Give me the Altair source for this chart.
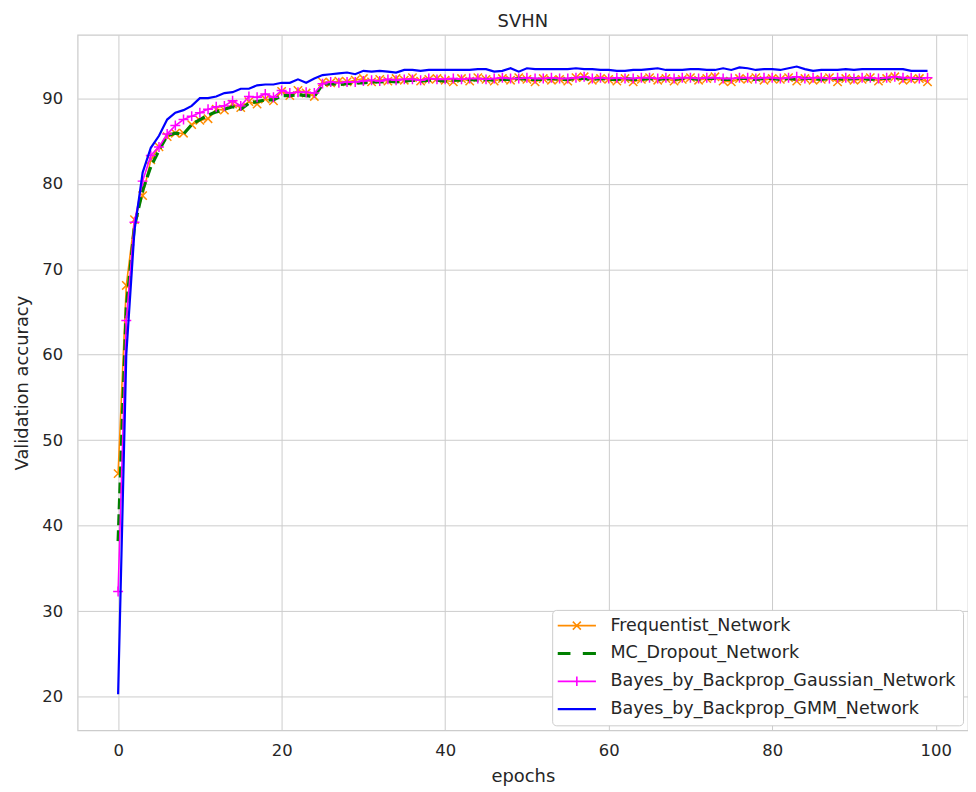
import altair as alt
import pandas as pd

epochs = list(range(100))

series_names = [
    "Frequentist_Network",
    "MC_Dropout_Network",
    "Bayes_by_Backprop_Gaussian_Network",
    "Bayes_by_Backprop_GMM_Network",
]
series_colors = ["#ff8c00", "#008000", "#ff00ff", "#0000ff"]

frequentist = [
    46.1, 68.1, 75.8, 78.6, 82.8, 84.3, 85.5, 85.9, 85.9, 86.9,
    87.4, 87.6, 88.7, 88.6, 89.3, 88.9, 89.6, 89.3, 89.9, 89.7,
    90.8, 90.3, 90.9, 90.6, 90.2, 91.9, 91.8, 92.0, 91.9, 92.1,
    92.3, 91.9, 92.2, 92.0, 92.3, 92.1, 92.4, 92.0, 92.2, 92.3,
    92.1, 91.9, 92.3, 92.0, 92.4, 92.2, 92.0, 92.3, 92.1, 92.4,
    92.2, 91.9, 92.3, 92.1, 92.2, 92.0, 92.4, 92.5, 92.1, 92.3,
    92.2, 92.0, 92.3, 91.9, 92.2, 92.4, 92.1, 92.3, 92.0, 92.2,
    92.4, 92.1, 92.3, 92.5, 92.0, 91.9, 92.3, 92.2, 92.4, 92.1,
    92.3, 92.2, 92.4, 92.0, 92.3, 92.1, 92.2, 92.4, 91.9, 92.3,
    92.1, 92.2, 92.4, 92.0, 92.3, 92.5, 92.1, 92.2, 92.3, 91.9,
]

mc_dropout = [
    38.2, 65.5, 75.0, 79.2, 82.0, 83.9, 85.6, 85.9, 85.8, 86.9,
    87.5, 88.0, 88.4, 88.7, 89.0, 88.7, 89.4, 89.6, 89.8, 89.8,
    90.3, 90.3, 90.4, 90.3, 90.2, 91.6, 91.7, 91.6, 91.7, 91.8,
    91.8, 91.9, 91.9, 92.0, 91.9, 92.0, 92.1, 92.0, 92.1, 92.1,
    92.0, 92.1, 92.1, 92.2, 92.1, 92.2, 92.1, 92.2, 92.2, 92.3,
    92.2, 92.2, 92.2, 92.3, 92.2, 92.2, 92.3, 92.3, 92.2, 92.3,
    92.2, 92.2, 92.3, 92.2, 92.2, 92.3, 92.2, 92.3, 92.2, 92.3,
    92.3, 92.2, 92.3, 92.3, 92.2, 92.2, 92.3, 92.3, 92.2, 92.3,
    92.3, 92.2, 92.3, 92.2, 92.3, 92.3, 92.2, 92.3, 92.3, 92.2,
    92.3, 92.3, 92.2, 92.3, 92.3, 92.4, 92.3, 92.3, 92.3, 92.3,
]

bbb_gaussian = [
    32.3, 64.0, 75.5, 80.3, 83.3, 84.3, 85.8, 86.8, 87.5, 87.9,
    88.3, 88.7, 89.0, 89.1, 89.7, 89.1, 90.2, 90.1, 90.5, 90.1,
    90.9, 90.6, 90.7, 90.7, 90.6, 91.7, 91.9, 91.8, 91.9, 91.9,
    92.0, 92.1, 92.0, 92.2, 92.1, 92.2, 92.2, 92.1, 92.3, 92.2,
    92.2, 92.3, 92.2, 92.3, 92.3, 92.2, 92.3, 92.4, 92.3, 92.3,
    92.4, 92.3, 92.3, 92.4, 92.3, 92.3, 92.4, 92.5, 92.3, 92.4,
    92.3, 92.4, 92.3, 92.3, 92.4, 92.4, 92.3, 92.4, 92.3, 92.4,
    92.4, 92.3, 92.4, 92.4, 92.3, 92.3, 92.4, 92.4, 92.3, 92.4,
    92.4, 92.3, 92.4, 92.5, 92.3, 92.4, 92.4, 92.3, 92.4, 92.4,
    92.3, 92.4, 92.4, 92.3, 92.4, 92.5, 92.4, 92.4, 92.3, 92.4,
]

bbb_gmm = [
    20.3, 60.0, 74.5, 81.3, 84.2, 85.6, 87.5, 88.3, 88.6, 89.1,
    90.0, 90.0, 90.2, 90.6, 90.7, 91.1, 91.1, 91.5, 91.6, 91.6,
    91.8, 91.8, 92.2, 91.8, 92.3, 92.7, 92.8, 92.9, 93.0, 92.8,
    93.2, 93.1, 93.2, 93.1, 93.0, 93.3, 93.3, 93.2, 93.3, 93.3,
    93.3, 93.3, 93.3, 93.3, 93.4, 93.4, 93.1, 93.2, 93.5, 93.1,
    93.5, 93.4, 93.4, 93.4, 93.4, 93.4, 93.5, 93.4, 93.4, 93.3,
    93.3, 93.2, 93.2, 93.3, 93.3, 93.4, 93.5, 93.3, 93.3, 93.3,
    93.4, 93.4, 93.3, 93.3, 93.5, 93.3, 93.6, 93.5, 93.3, 93.4,
    93.4, 93.3, 93.5, 93.7, 93.4, 93.2, 93.3, 93.3, 93.3, 93.4,
    93.3, 93.4, 93.4, 93.4, 93.4, 93.4, 93.4, 93.2, 93.2, 93.2,
]

x_ticks = [0, 20, 40, 60, 80, 100]
y_ticks = [20, 30, 40, 50, 60, 70, 80, 90]

rows = []
for name, vals in zip(series_names, [frequentist, mc_dropout, bbb_gaussian, bbb_gmm]):
    for e, v in zip(epochs, vals):
        rows.append({"epoch": e, "accuracy": v, "series": name})
df = pd.DataFrame(rows)

FONT = "DejaVu Sans"
TXT = "#262626"

shape_expr = (
    "datum.value === 'Frequentist_Network' ? 'M-2.4,0L2.4,0M-0.5,-0.5L0.5,0.5M-0.5,0.5L0.5,-0.5' : "
    "datum.value === 'MC_Dropout_Network' ? 'M-2.4,0L-0.8,0M0.75,0L2.4,0' : "
    "datum.value === 'Bayes_by_Backprop_Gaussian_Network' ? 'M-2.4,0L2.4,0M0,-0.6L0,0.6' : "
    "'M-2.4,0L2.4,0'"
)
width_expr = (
    "datum.value === 'MC_Dropout_Network' ? 3.2 : "
    "datum.value === 'Bayes_by_Backprop_GMM_Network' ? 2.2 : 1.6"
)

legend = alt.Legend(
    title=None,
    orient="none",
    legendX=477,
    legendY=578,
    padding=7,
    symbolType={"expr": shape_expr},
    symbolStrokeWidth={"expr": width_expr},
    symbolFillColor="transparent",
    symbolDash=[1, 0],
    symbolOpacity=1,
    symbolSize=256,
    symbolOffset=9,
    labelOffset=25,
    rowPadding=9,
    labelFont=FONT,
    labelFontSize=17.6,
    labelColor=TXT,
    labelLimit=600,
    fillColor="white",
    strokeColor="#cccccc",
    cornerRadius=4,
)

color = alt.Color(
    "series:N",
    scale=alt.Scale(domain=series_names, range=series_colors),
    legend=legend,
)

x_enc = alt.X(
    "epoch:Q",
    scale=alt.Scale(domain=[-4.95, 103.95], nice=False, zero=False),
    axis=alt.Axis(values=x_ticks, title="epochs", format="d"),
)
y_enc = alt.Y(
    "accuracy:Q",
    scale=alt.Scale(domain=[16.08, 97.40], nice=False, zero=False),
    axis=alt.Axis(values=y_ticks, title="Validation accuracy", format="d"),
)

base = alt.Chart(df).encode(x=x_enc, y=y_enc, color=color)


def sel(name):
    return alt.datum.series == name


layers = [
    base.transform_filter(sel(series_names[0])).mark_line(strokeWidth=1.6),
    base.transform_filter(sel(series_names[0])).mark_point(
        shape="M-1,-1L1,1M-1,1L1,-1", filled=False, size=70, strokeWidth=1.5, opacity=1
    ),
    base.transform_filter(sel(series_names[1])).mark_line(strokeWidth=3.2, strokeDash=[11, 5]),
    base.transform_filter(sel(series_names[2])).mark_line(strokeWidth=1.6),
    base.transform_filter(sel(series_names[2])).mark_point(
        shape="M-1,0L1,0M0,-1L0,1", filled=False, size=100, strokeWidth=1.5, opacity=1
    ),
    base.transform_filter(sel(series_names[3])).mark_line(strokeWidth=2.2),
]

chart = (
    alt.layer(*layers)
    .properties(
        width=895,
        height=699,
        title=alt.TitleParams("SVHN", font=FONT, fontSize=18, fontWeight="normal", color=TXT, offset=4),
        autosize=alt.AutoSizeParams(type="none"),
        padding={"left": 70, "top": 25, "right": 0, "bottom": 59},
    )
    .configure_view(stroke="#cccccc", strokeWidth=1.25)
    .configure_axis(
        grid=True,
        gridColor="#cccccc",
        gridWidth=1,
        domain=False,
        ticks=False,
        labelFont=FONT,
        labelFontSize=16.5,
        labelColor=TXT,
        titleFont=FONT,
        titleFontSize=18,
        titleFontWeight="normal",
        titleColor=TXT,
    )
    .configure_axisX(labelPadding=12, titlePadding=9)
    .configure_axisY(labelPadding=15, titlePadding=10)
)

chart.save("out.html", embed_options={"renderer": "svg", "actions": False})
